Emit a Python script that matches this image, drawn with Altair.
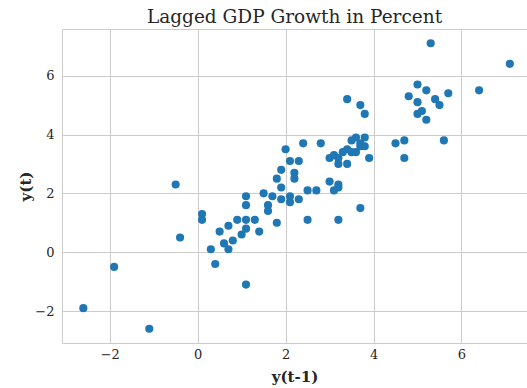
import altair as alt
import pandas as pd

# Growth rate in the previous period, y(t-1)
lagged = [
    -2.6, -1.9, -1.1, -0.5, -0.4, 1.1, 0.1, 0.1, 0.3, 0.4,
    0.5, 0.6, 0.7, 0.7, 0.8, 0.9, 1.0, 1.1, 1.1, 1.1,
    1.1, 1.3, 1.4, 1.5, 1.6, 1.6, 1.7, 1.8, 1.8, 1.9,
    1.9, 1.9, 2.1, 2.1, 2.2, 2.2, 2.0, 2.4, 2.8, 2.1,
    2.3, 2.3, 2.5, 2.7, 3.0, 3.2, 3.2, 3.1, 2.5, 3.2,
    3.7, 3.0, 3.1, 3.2, 3.2, 3.3, 3.4, 3.4, 3.5, 3.5,
    3.6, 3.6, 3.7, 3.7, 3.8, 3.8, 3.9, 3.4, 3.7, 3.8,
    4.5, 4.7, 4.7, 5.3, 7.1, 5.0, 5.2, 4.8, 5.7, 6.4,
    5.0, 5.4, 5.5, 5.1, 5.0, 5.2, 5.6,
]

# Growth rate in the current period, y(t)
current = [
    -1.9, -0.5, -2.6, 2.3, 0.5, -1.1, 1.3, 1.1, 0.1, -0.4,
    0.7, 0.3, 0.1, 0.9, 0.4, 1.1, 0.6, 0.8, 1.1, 1.6,
    1.9, 1.1, 0.7, 2.0, 1.6, 1.4, 1.9, 1.0, 2.5, 2.8,
    2.2, 1.8, 1.9, 1.7, 2.7, 2.5, 3.5, 3.7, 3.7, 3.1,
    3.1, 1.8, 2.1, 2.1, 2.4, 2.3, 2.2, 2.1, 1.1, 1.1,
    1.5, 3.2, 3.3, 3.2, 3.0, 3.4, 3.5, 3.0, 3.8, 3.4,
    3.4, 3.9, 3.7, 3.6, 3.9, 3.6, 3.2, 5.2, 5.0, 4.7,
    3.7, 3.8, 3.2, 7.1, 6.4, 5.7, 5.5, 5.3, 5.4, 5.5,
    5.1, 5.2, 5.0, 4.8, 4.7, 4.5, 3.8,
]

tick_values = [-2, 0, 2, 4, 6]

df = pd.DataFrame({"lag": lagged, "cur": current})

FONT = "DejaVu Serif"
INK = "#262626"
GRID = "#cccccc"

chart = (
    alt.Chart(df)
    .mark_circle(size=66, opacity=1, color="#1f77b4")
    .encode(
        x=alt.X(
            "lag:Q",
            title="y(t-1)",
            scale=alt.Scale(domain=[-3.085, 7.49], nice=False, zero=False),
            axis=alt.Axis(values=tick_values, labelPadding=5, titlePadding=8),
        ),
        y=alt.Y(
            "cur:Q",
            title="y(t)",
            scale=alt.Scale(domain=[-3.085, 7.585], nice=False, zero=False),
            axis=alt.Axis(values=tick_values, labelPadding=8, titlePadding=1),
        ),
    )
    .properties(
        width=465,
        height=314,
        title=alt.TitleParams(
            "Lagged GDP Growth in Percent",
            font=FONT,
            fontSize=18.5,
            fontWeight="normal",
            color=INK,
            anchor="middle",
            offset=3,
        ),
        autosize=alt.AutoSizeParams(type="none"),
        padding={"left": 62, "top": 29, "right": 0, "bottom": 45},
    )
    .configure_view(stroke=GRID, strokeWidth=1)
    .configure_axis(
        grid=True,
        gridColor=GRID,
        gridWidth=1,
        domain=False,
        ticks=False,
        tickSize=0,
        labelFont=FONT,
        labelFontSize=13,
        labelColor=INK,
        titleFont=FONT,
        titleFontSize=15,
        titleFontWeight="bold",
        titleColor=INK,
    )
)

chart.save("out.html", embed_options={"renderer": "svg", "actions": False})
